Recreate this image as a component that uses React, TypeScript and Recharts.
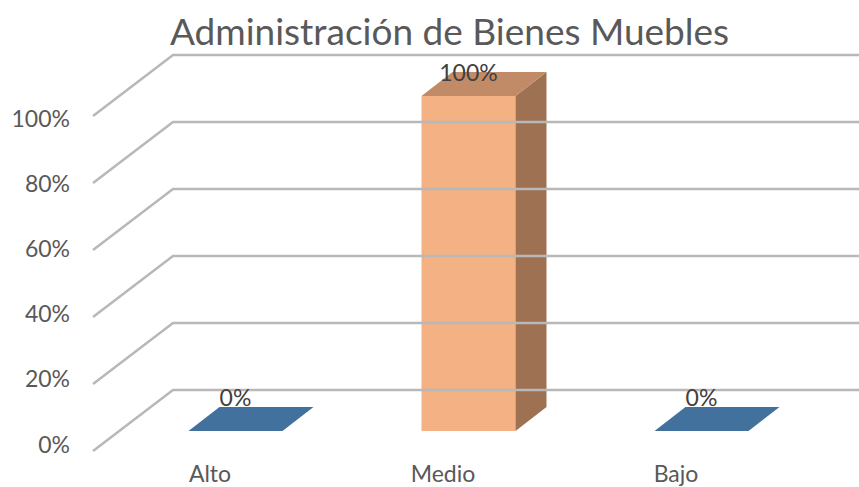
import { BarChart, Bar, XAxis, YAxis, LabelList } from 'recharts'

const categories = ['Alto', 'Medio', 'Bajo']
const values = [0, 100, 0]
const yTicks = [0, 20, 40, 60, 80, 100]

const FRONT = ['#41719C', '#F4B183', '#41719C']
const TOP = ['#41719C', '#C08B66', '#41719C']
const SIDE = ['#335A7C', '#9E7152', '#335A7C']

const data = categories.map((name, i) => ({ name, value: values[i] }))

const W = 859
const H = 487
const DX = 31
const DY = -24
const FONT = 'Lato, "Noto Sans", sans-serif'

const Box3D = (props: any) => {
  const { x, y, width, height, index } = props
  const w = width
  const h = Math.max(height, 0)
  const top = `${x},${y} ${x + DX},${y + DY} ${x + w + DX},${y + DY} ${x + w},${y}`
  const side = `${x + w},${y} ${x + w + DX},${y + DY} ${x + w + DX},${y + h + DY} ${x + w},${y + h}`
  return (
    <g>
      {h > 0 && <rect x={x} y={y} width={w} height={h} fill={FRONT[index]} />}
      {h > 0 && <polygon points={side} fill={SIDE[index]} />}
      <polygon points={top} fill={TOP[index]} />
    </g>
  )
}

// y axis tick draws the 3D wall gridline plus its label
const WallTick = (props: any) => {
  const { y, payload } = props
  const frontX = 93
  const frontY = y + 20
  const backX = 173
  const backY = y - 41
  const labelY = 250 + (frontY - 250) * 0.973 + 7
  return (
    <g>
      <polyline
        points={`${frontX},${frontY} ${backX},${backY} ${W},${backY}`}
        fill="none"
        stroke="#B8B8B8"
        strokeWidth={2.5}
      />
      <text x={70} y={labelY} textAnchor="end" fill="#595959" fontSize={23} fontFamily={FONT}>
        {payload.value}%
      </text>
    </g>
  )
}

const CatTick = (props: any) => {
  const { x, payload } = props
  return (
    <text x={x - 25} y={482} textAnchor="middle" fill="#595959" fontSize={23} fontFamily={FONT}>
      {payload.value}
    </text>
  )
}

const ValueLabel = (props: any) => {
  const { x, y, width, height, value } = props
  const base = height > 0 ? y - 15 : y - 25
  return (
    <text x={x + width / 2} y={base} textAnchor="middle" fill="#404040" fontSize={23} fontFamily={FONT}>
      {value}%
    </text>
  )
}

export default function App() {
  return (
    <div style={{ position: 'absolute', left: 0, top: 0, width: W, height: H, background: '#fff' }}>
      <div
        style={{
          position: 'absolute',
          left: 0,
          top: 9,
          width: 899,
          textAlign: 'center',
          fontFamily: FONT,
          fontSize: 37,
          color: '#595959',
          lineHeight: '44px',
        }}
      >
        Administración de Bienes Muebles
      </div>
      <BarChart
        width={W}
        height={H}
        data={data}
        margin={{ top: 96, right: 41.5, bottom: 0, left: 78.5 }}
      >
        <YAxis
          width={40}
          domain={[0, 100]}
          ticks={yTicks}
          axisLine={false}
          tickLine={false}
          tick={<WallTick />}
          interval={0}
        />
        <XAxis
          dataKey="name"
          height={56}
          axisLine={false}
          tickLine={false}
          tick={<CatTick />}
          interval={0}
        />
        <Bar dataKey="value" barSize={94} shape={<Box3D />} isAnimationActive={false}>
          <LabelList dataKey="value" content={<ValueLabel />} />
        </Bar>
      </BarChart>
    </div>
  )
}
